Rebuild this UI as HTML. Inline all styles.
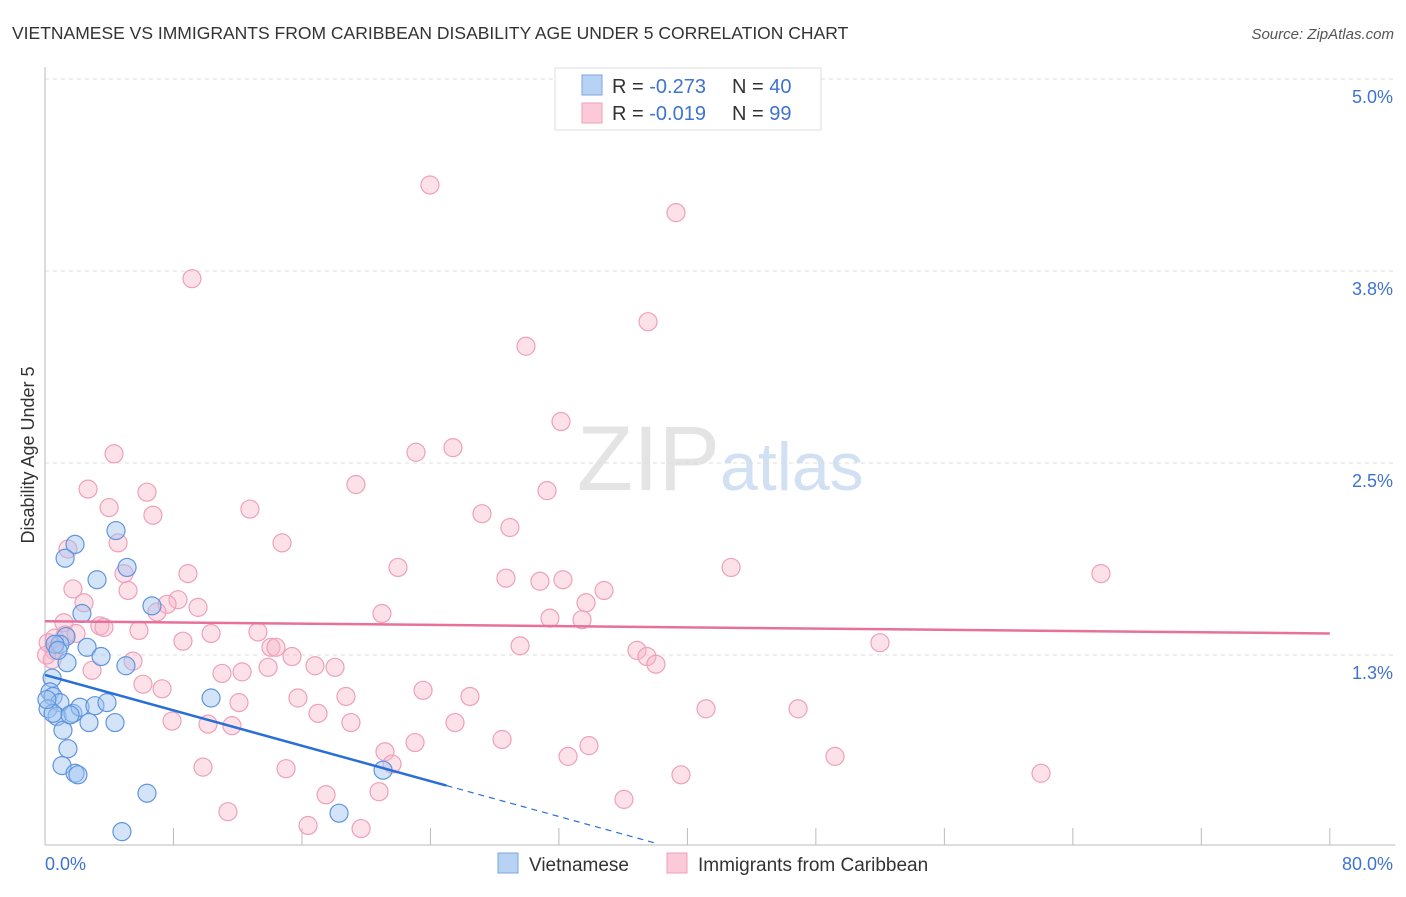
<!DOCTYPE html>
<html><head><meta charset="utf-8"><style>
body{margin:0;background:#fff;font-family:"Liberation Sans",sans-serif;}
svg text{font-family:"Liberation Sans",sans-serif;}
</style></head><body>
<svg id="chart" width="1406" height="892" xmlns="http://www.w3.org/2000/svg">
<text x="12" y="39" font-size="17.5" fill="#333">VIETNAMESE VS IMMIGRANTS FROM CARIBBEAN DISABILITY AGE UNDER 5 CORRELATION CHART</text>
<text x="1394" y="39" font-size="15" fill="#555" font-style="italic" text-anchor="end">Source: ZipAtlas.com</text>
<text x="720" y="490" font-size="92" fill="#e4e4e4" text-anchor="end" font-family="Liberation Serif">ZIP</text>
<text x="720" y="490" font-size="68" fill="#d2e0f4">atlas</text>
<text transform="translate(34,455) rotate(-90)" font-size="18" fill="#333" text-anchor="middle">Disability Age Under 5</text>
<g id="grid"></g><g id="axes"></g><g id="pts"></g><g id="lines"></g>
<g>
<rect x="555" y="68" width="266" height="62" fill="#fff" stroke="#ddd"/>
<rect x="582" y="75" width="20" height="20" fill="#b8d2f4" stroke="#7aa6e2"/>
<rect x="582" y="103" width="20" height="20" fill="#fbc9d8" stroke="#eea0ba"/>
<text x="612" y="93" font-size="20" fill="#333">R = <tspan fill="#3f73d0">-0.273</tspan></text>
<text x="732" y="93" font-size="20" fill="#333">N = <tspan fill="#3f73d0">40</tspan></text>
<text x="612" y="120" font-size="20" fill="#333">R = <tspan fill="#3f73d0">-0.019</tspan></text>
<text x="732" y="120" font-size="20" fill="#333">N = <tspan fill="#3f73d0"> 99</tspan></text>
</g>
<g>
<rect x="498" y="853" width="20" height="20" fill="#b8d2f4" stroke="#7aa6e2"/>
<text x="529" y="871" font-size="19" fill="#333">Vietnamese</text>
<rect x="667" y="853" width="20" height="20" fill="#fbc9d8" stroke="#eea0ba"/>
<text x="698" y="871" font-size="19" fill="#333">Immigrants from Caribbean</text>
</g>
</svg>
<script>
const yTicks=[5.0,3.75,2.5,1.25];
const yTickLabels=["5.0%","3.8%","2.5%","1.3%"];
const xTickValues=[0,8,16,24,32,40,48,56,64,72,80];
const blueX=[1.87,1.25,3.24,4.42,5.11,6.66,2.30,1.31,0.93,2.62,3.49,5.04,1.37,0.44,0.31,0.50,0.93,0.19,0.75,0.50,1.74,2.18,3.11,3.86,2.74,4.36,10.34,1.43,1.12,1.06,1.87,2.05,6.35,4.79,21.05,18.31,0.62,0.81,0.12,1.56];
const blueY=[1.97,1.88,1.74,2.06,1.82,1.57,1.52,1.37,1.32,1.30,1.24,1.18,1.20,1.10,1.01,0.98,0.94,0.90,0.85,0.87,0.87,0.91,0.92,0.94,0.81,0.81,0.97,0.64,0.76,0.53,0.48,0.47,0.35,0.10,0.50,0.22,1.32,1.28,0.96,0.86];
const pinkX=[23.97,39.29,9.15,37.55,29.95,32.13,25.40,23.10,4.30,19.36,31.26,2.68,6.35,3.99,12.76,6.72,27.21,28.95,14.76,4.55,1.43,21.98,28.70,30.82,32.25,34.81,8.90,4.92,1.74,5.17,42.72,65.75,8.28,2.43,7.60,9.53,33.69,6.97,20.98,31.44,33.44,1.18,3.42,3.67,5.85,10.34,13.26,1.25,1.93,8.59,29.58,51.99,0.56,14.07,14.38,36.86,37.48,15.38,38.04,0.44,5.48,2.93,11.02,12.27,13.89,16.81,18.06,6.10,7.29,23.54,26.46,15.75,18.74,12.08,17.00,41.16,46.89,7.91,10.15,11.64,19.05,25.53,28.46,23.04,33.87,21.17,21.61,32.57,49.19,9.84,15.01,39.60,62.02,20.80,17.50,36.05,11.39,16.38,19.68,0.1,0.2,0.6];
const pinkY=[4.31,4.13,3.70,3.42,3.26,2.77,2.60,2.57,2.56,2.36,2.32,2.33,2.31,2.21,2.20,2.16,2.17,2.08,1.98,1.98,1.94,1.82,1.75,1.73,1.74,1.67,1.78,1.78,1.68,1.67,1.82,1.78,1.61,1.59,1.58,1.56,1.59,1.53,1.52,1.49,1.48,1.46,1.44,1.43,1.41,1.39,1.40,1.38,1.39,1.34,1.31,1.33,1.28,1.30,1.30,1.28,1.24,1.24,1.19,1.22,1.21,1.15,1.13,1.14,1.17,1.18,1.17,1.06,1.03,1.02,0.98,0.97,0.98,0.94,0.87,0.90,0.90,0.82,0.80,0.79,0.81,0.81,0.70,0.68,0.66,0.62,0.54,0.59,0.59,0.52,0.51,0.47,0.48,0.36,0.34,0.31,0.23,0.14,0.12,1.25,1.33,1.36];
const blueFit=[1.12,-0.0288];
const pinkFit=[1.47,-0.001];
const NS="http://www.w3.org/2000/svg";
const X=v=>45+v*16.06, Y=v=>847-v*153.6;
function mk(tag,attrs,parent){const e=document.createElementNS(NS,tag);for(const k in attrs)e.setAttribute(k,attrs[k]);document.getElementById(parent).appendChild(e);return e;}
yTicks.forEach((t,i)=>{
 const g=mk('line',{x1:45,x2:1395,y1:Y(t),y2:Y(t),stroke:'#ddd','stroke-dasharray':'4,4'},'grid');
 
 
 const tx=mk('text',{x:1393,y:Y(t)+24,'font-size':18,fill:'#3f73d0','text-anchor':'end'},'axes');
 tx.textContent=yTickLabels[i];
 
 
});
const la=mk('line',{x1:45,x2:45,y1:67,y2:845,stroke:'#bbb'},'axes');


const lb=mk('line',{x1:45,x2:1395,y1:845,y2:845,stroke:'#bbb'},'axes');


xTickValues.forEach(v=>{
 const t=mk('line',{x1:X(v),x2:X(v),y1:828,y2:845,stroke:'#bbb'},'axes');
 
 
});
const x0=mk('text',{x:45,y:870,'font-size':18,fill:'#3f73d0'},'axes');x0.textContent='0.0%';


const x1=mk('text',{x:1393,y:870,'font-size':18,fill:'#3f73d0','text-anchor':'end'},'axes');x1.textContent='80.0%';


pinkX.forEach((v,i)=>{
 const c=mk('circle',{cx:X(v),cy:Y(pinkY[i]),r:9,fill:'rgba(248,180,200,0.4)',stroke:'#eea0ba','stroke-width':1.2},'pts');
 
 
});
blueX.forEach((v,i)=>{
 const c=mk('circle',{cx:X(v),cy:Y(blueY[i]),r:9,fill:'rgba(160,196,240,0.45)',stroke:'#5f95de','stroke-width':1.2},'pts');
 
 
});
const pl=mk('line',{x1:X(0),y1:Y(pinkFit[0]),x2:X(80),y2:Y(pinkFit[0]+pinkFit[1]*80),stroke:'#e8709a','stroke-width':2.5},'lines');


const bl=mk('line',{x1:X(0),y1:Y(blueFit[0]),x2:X(25),y2:Y(blueFit[0]+blueFit[1]*25),stroke:'#2a6fd6','stroke-width':2.5},'lines');


const bd=mk('line',{x1:X(25),y1:Y(blueFit[0]+blueFit[1]*25),x2:X(38.2),y2:Y(blueFit[0]+blueFit[1]*38.2),stroke:'#2a6fd6','stroke-width':1.2,'stroke-dasharray':'6,5'},'lines');


</script>
</body></html>
